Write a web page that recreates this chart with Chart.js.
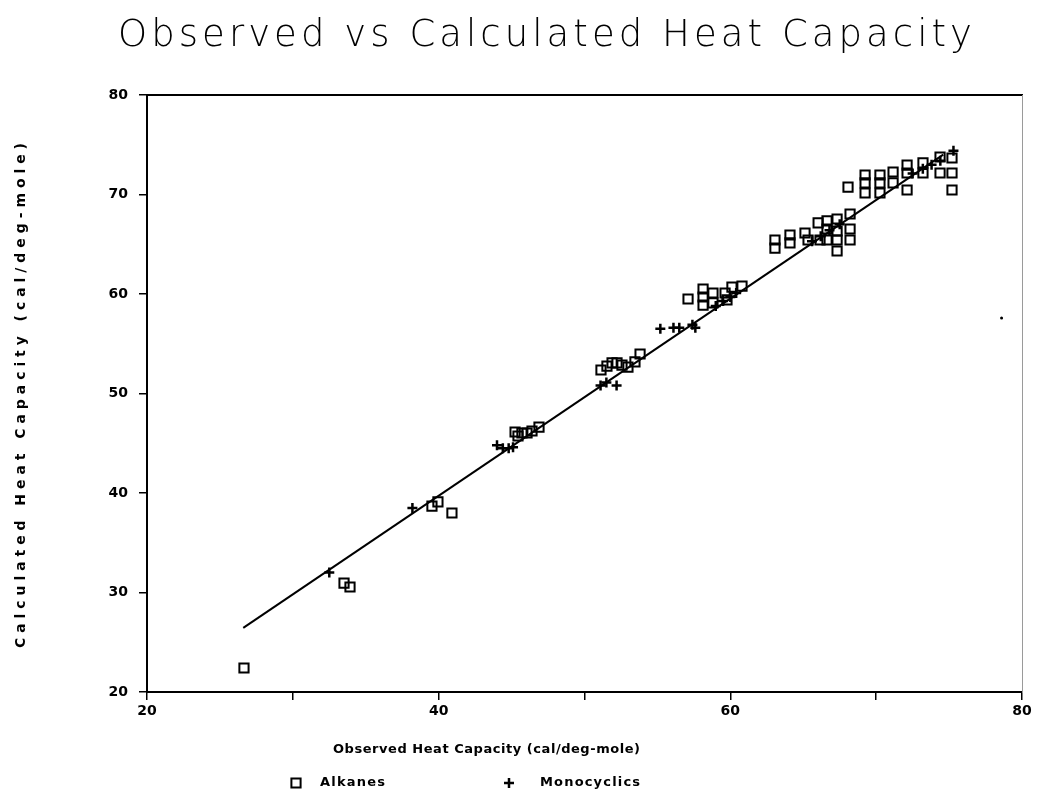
<!DOCTYPE html>
<html>
<head>
<meta charset="utf-8">
<style>
  html, body { margin: 0; padding: 0; background: #ffffff; }
  #wrap { width: 1038px; height: 794px; position: relative; }
</style>
<script src="https://cdn.jsdelivr.net/npm/chart.js@4/dist/chart.umd.min.js"></script>
</head>
<body>
<div id="wrap"><canvas id="c" width="1038" height="794"></canvas></div>
<script>
// ---- data ----
const chartTitle = "Observed vs Calculated Heat Capacity";
const xAxisTitle = "Observed Heat Capacity (cal/deg-mole)";
const yAxisTitle = "Calculated Heat Capacity (cal/deg-mole)";
const seriesNames = ["Alkanes", "Monocyclics"];

const xTickValues = [20, 30, 40, 50, 60, 70, 80];
const xTickLabels = ["20", "", "40", "", "60", "", "80"];
const yTickValues = [20, 30, 40, 50, 60, 70, 80];
const yTickLabels = ["20", "30", "40", "50", "60", "70", "80"];

const alkanesObserved = [
  26.65, 33.51, 33.92, 39.54, 39.95, 40.91,
  45.24, 45.44, 45.71, 46.06, 46.40, 46.88,
  51.13, 51.54, 51.89, 52.23, 52.57, 52.98, 53.46, 53.81,
  57.10, 58.13, 58.13, 58.13, 58.81, 58.81, 59.64, 59.77, 60.11, 60.80,
  63.06, 63.06, 64.09, 64.09, 65.12, 65.33, 66.02, 66.15, 66.63, 66.63, 66.63,
  67.32, 67.32, 67.32, 67.32, 68.21, 68.21, 68.21,
  68.07, 69.24, 69.24, 69.24, 70.26, 70.26, 70.26, 71.16, 71.16,
  72.12, 72.12, 72.12, 73.21, 73.21, 74.38, 74.38, 75.20, 75.20, 75.20
];
const alkanesCalculated = [
  22.41, 30.95, 30.55, 38.69, 39.10, 37.99,
  46.13, 45.73, 46.03, 46.03, 46.23, 46.63,
  52.36, 52.76, 53.07, 53.07, 52.86, 52.66, 53.17, 53.97,
  59.50, 60.50, 59.70, 58.89, 60.10, 59.10, 60.10, 59.40, 60.70, 60.80,
  65.43, 64.62, 65.93, 65.13, 66.13, 65.43, 67.14, 65.43, 67.34, 66.53, 65.43,
  67.54, 66.33, 65.43, 64.32, 68.04, 66.53, 65.43,
  70.75, 71.96, 71.16, 70.15, 71.96, 71.16, 70.15, 72.26, 71.16,
  72.96, 72.16, 70.45, 73.17, 72.16, 73.77, 72.16, 73.67, 72.16, 70.45
];

const monocyclicsObserved = [
  32.5, 38.2, 44.0, 44.4, 44.8, 45.1,
  51.1, 51.5, 52.2,
  55.2, 56.1, 56.5, 57.4, 57.6,
  59.0, 59.5, 60.0, 60.4,
  65.6, 66.2, 66.8, 67.5,
  72.5, 73.2, 73.8, 74.4, 75.3
];
const monocyclicsCalculated = [
  32.0, 38.5, 44.8, 44.5, 44.5, 44.6,
  50.8, 51.1, 50.8,
  56.5, 56.6, 56.6, 56.9, 56.6,
  58.8, 59.3, 59.7, 60.1,
  65.3, 65.8, 66.4, 67.0,
  72.1, 72.6, 73.0, 73.4, 74.4
];

const fitLineObserved = [26.6, 74.6];
const fitLineCalculated = [26.45, 74.0];

const strayObserved = [78.6];
const strayCalculated = [57.6];

// ---- build datasets ----
function pts(xs, ys) { return xs.map((x, i) => ({ x: x, y: ys[i] })); }

const BLACK = '#000000';

const textPlugin = {
  id: 'textPlugin',
  afterDraw(chart) {
    const ctx = chart.ctx;
    function fitText(text, font, x0, len, y, baseline) {
      ctx.font = font;
      ctx.letterSpacing = '0px';
      const w = ctx.measureText(text).width;
      const ls = (len - w) / (text.length - 1);
      ctx.letterSpacing = ls + 'px';
      ctx.fillStyle = BLACK;
      ctx.textAlign = 'left';
      ctx.textBaseline = baseline || 'middle';
      ctx.fillText(text, x0, y);
      ctx.letterSpacing = '0px';
    }
    // chart title
    ctx.save();
    fitText(chartTitle, '200 37px "DejaVu Sans"', 118, 854, 46, 'alphabetic');
    ctx.restore();
    // x axis title
    ctx.save();
    fitText(xAxisTitle, 'bold 13px "DejaVu Sans"', 333, 307, 750);
    ctx.restore();
    // y axis title (rotated)
    ctx.save();
    ctx.translate(21, 648);
    ctx.rotate(-Math.PI / 2);
    fitText(yAxisTitle, 'bold 14px "DejaVu Sans"', 0, 505, 0);
    ctx.restore();
    // legend
    const ds = chart.data.datasets;
    const legendY = 783;
    const items = [
      { ds: ds[0], mx: 296, tx0: 320, len: 65 },
      { ds: ds[1], mx: 509, tx0: 540, len: 100 }
    ];
    items.forEach(it => {
      ctx.save();
      ctx.strokeStyle = BLACK;
      ctx.fillStyle = 'rgba(0,0,0,0)';
      ctx.lineWidth = it.ds.pointBorderWidth;
      Chart.helpers.drawPoint(ctx, {
        pointStyle: it.ds.pointStyle,
        radius: it.ds.pointRadius,
        borderWidth: it.ds.pointBorderWidth,
        rotation: 0
      }, it.mx, legendY);
      ctx.restore();
      ctx.save();
      fitText(it.ds.label, 'bold 13px "DejaVu Sans"', it.tx0, it.len, legendY);
      ctx.restore();
    });
  }
};

const ctx = document.getElementById('c').getContext('2d');
new Chart(ctx, {
  type: 'scatter',
  data: {
    datasets: [
      {
        label: seriesNames[0],
        data: pts(alkanesObserved, alkanesCalculated),
        pointStyle: 'rect',
        pointRadius: 6.5,
        pointBorderWidth: 2,
        borderColor: BLACK,
        backgroundColor: 'rgba(0,0,0,0)',
        pointBackgroundColor: 'rgba(0,0,0,0)',
        pointBorderColor: BLACK,
        order: 2
      },
      {
        label: seriesNames[1],
        data: pts(monocyclicsObserved, monocyclicsCalculated),
        pointStyle: 'cross',
        pointRadius: 5,
        pointBorderWidth: 2.5,
        borderColor: BLACK,
        backgroundColor: BLACK,
        pointBorderColor: BLACK,
        order: 1
      },
      {
        label: 'fit',
        data: pts(fitLineObserved, fitLineCalculated),
        showLine: true,
        borderColor: BLACK,
        borderWidth: 2,
        pointRadius: 0,
        fill: false,
        order: 3
      },
      {
        label: 'stray',
        data: pts(strayObserved, strayCalculated),
        pointStyle: 'circle',
        pointRadius: 1.5,
        pointBorderWidth: 0,
        pointBackgroundColor: BLACK,
        backgroundColor: BLACK,
        borderColor: BLACK,
        order: 4
      }
    ]
  },
  options: {
    responsive: false,
    animation: false,
    events: [],
    layout: { padding: { top: 95, right: 16, left: 0, bottom: 0 } },
    plugins: {
      legend: { display: false },
      title: { display: false },
      tooltip: { enabled: false }
    },
    scales: {
      x: {
        type: 'linear',
        position: 'bottom',
        min: 20, max: 80,
        afterBuildTicks(s) { s.ticks = xTickValues.map(v => ({ value: v })); },
        afterFit(s) { s.height = 102; },
        ticks: {
          color: BLACK,
          font: { family: 'DejaVu Sans', size: 14, weight: 'bold' },
          padding: 3,
          maxRotation: 0,
          autoSkip: false,
          callback(v) { const i = xTickValues.indexOf(v); return i >= 0 ? xTickLabels[i] : ''; }
        },
        grid: { display: true, drawOnChartArea: false, drawTicks: true, tickLength: 8, color: BLACK, lineWidth: 1.5 },
        border: { display: true, color: BLACK, width: 2 }
      },
      y: {
        type: 'linear',
        position: 'left',
        min: 20, max: 80,
        afterBuildTicks(s) { s.ticks = yTickValues.map(v => ({ value: v })); },
        afterFit(s) { s.width = 147; },
        ticks: {
          color: BLACK,
          font: { family: 'DejaVu Sans', size: 14, weight: 'bold' },
          padding: 11,
          autoSkip: false,
          callback(v) { const i = yTickValues.indexOf(v); return i >= 0 ? yTickLabels[i] : ''; }
        },
        grid: { display: true, drawOnChartArea: false, drawTicks: true, tickLength: 8, color: BLACK, lineWidth: 1.5 },
        border: { display: true, color: BLACK, width: 2 }
      },
      x2: {
        type: 'linear',
        position: 'top',
        min: 20, max: 80,
        afterFit(s) { s.height = 0; },
        ticks: { display: false },
        grid: { display: false },
        border: { display: true, color: BLACK, width: 2 }
      },
      y2: {
        type: 'linear',
        position: 'right',
        min: 20, max: 80,
        afterFit(s) { s.width = 0; },
        ticks: { display: false },
        grid: { display: false },
        border: { display: true, color: '#9a9a9a', width: 1, dash: [2, 3] }
      }
    }
  },
  plugins: [textPlugin]
});
</script>
</body>
</html>
